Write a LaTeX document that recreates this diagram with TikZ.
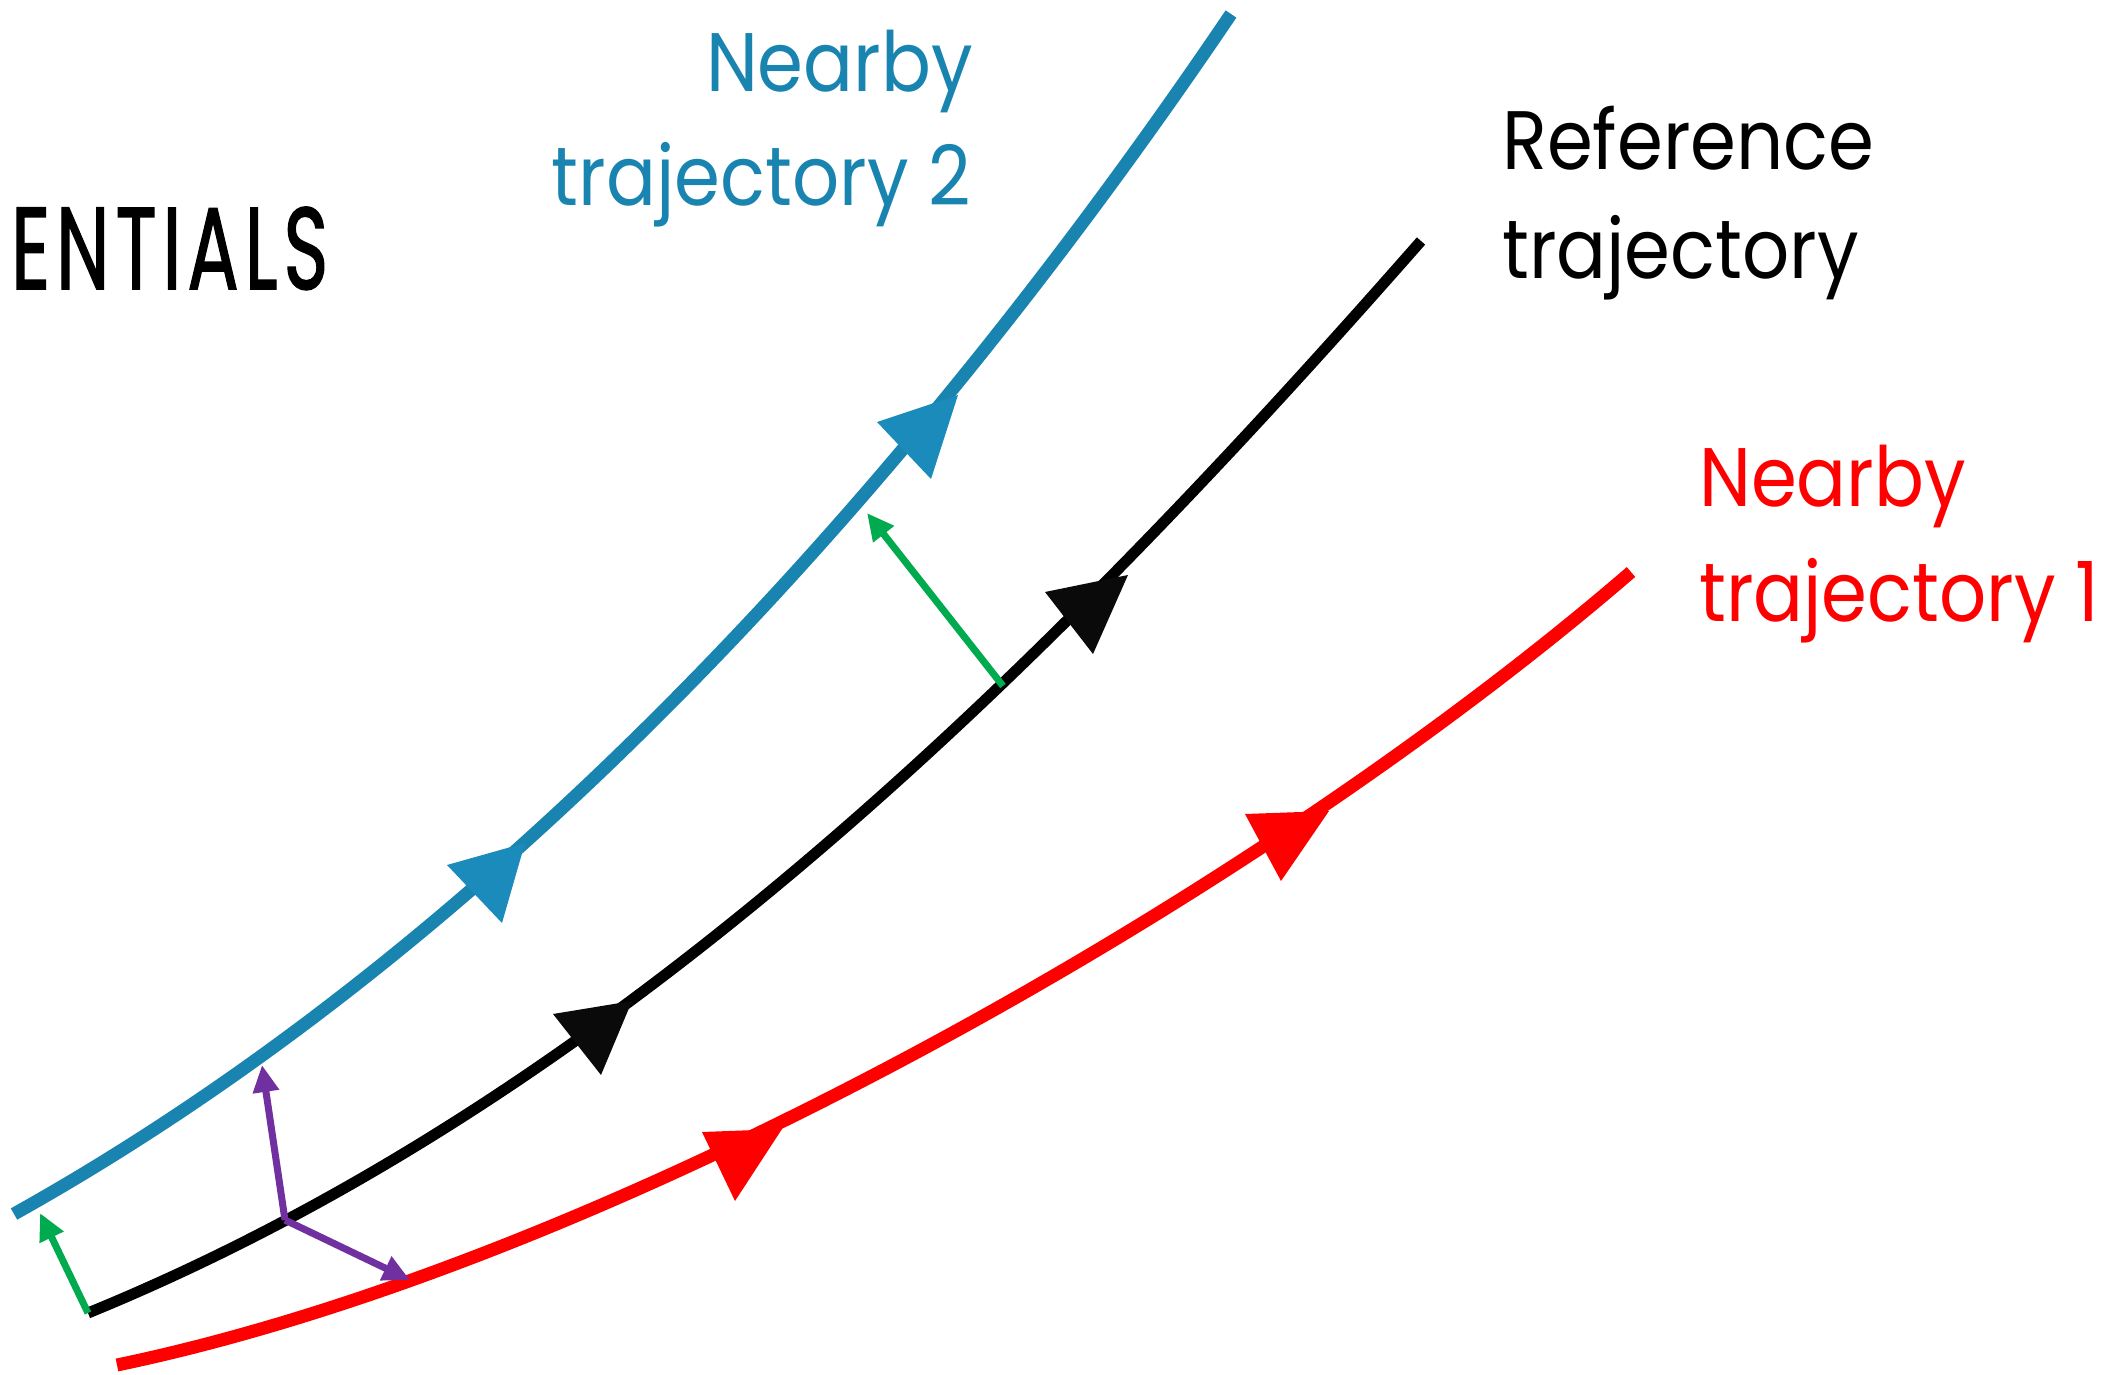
\documentclass[tikz,border=0pt]{standalone}
\usepackage{fontspec}
\setmainfont{Poppins}
\newfontfamily\entfont{Poppins}[FakeBold=1.6,LetterSpace=8]
\usetikzlibrary{arrows.meta}
\definecolor{tblue}{HTML}{1984B0}
\definecolor{tblueh}{HTML}{1A8BBA}
\definecolor{tred}{HTML}{FF0000}
\definecolor{tgreen}{HTML}{00AA4F}
\definecolor{tpurple}{HTML}{7030A0}
\begin{document}
\begin{tikzpicture}[x=1pt,y=-1pt,
  traj/.style={line width=13pt},
  vec/.style={line width=7pt,-{Triangle[length=27pt,width=25pt]}},
  lbl/.style={inner sep=0pt,anchor=base west,font=\fontsize{83}{112}\selectfont},
  lblr/.style={inner sep=0pt,anchor=base east,font=\fontsize{83}{112}\selectfont}]
\useasboundingbox (0,0) rectangle (2126,1375);
% named points
\coordinate (b0) at (14,1214);
\coordinate (b3) at (1231,14);
\coordinate (k0) at (88,1313);
\coordinate (k3) at (1421,241);
\coordinate (r0) at (117,1365);
\coordinate (r3) at (1631,572);
\coordinate (k1) at (285,1220);
\coordinate (k2) at (1003,686);
\coordinate (g1) at (40,1213);
\coordinate (g2) at (867,513);
\coordinate (p1) at (262,1065);
\coordinate (p2) at (410,1280);
% curves
\draw[traj,tblue] (b0) .. controls (503,941) and (917,478) .. (b3);
\draw[traj,black,line width=11pt] (k0) .. controls (616,1097) and (1045,669) .. (k3);
\draw[traj,tred] (r0) .. controls (607,1263) and (1252,899) .. (r3);
% direction triangles
\fill[tblueh] (447,865) -- (502,923) -- (525,843) -- cycle;
\fill[tblueh] (877,422) -- (931,479) -- (958,395) -- cycle;
\fill[black!96] (553,1014) -- (601,1075) -- (632,1001) -- cycle;
\fill[black!96] (1045,592) -- (1093,654) -- (1128,575) -- cycle;
\fill[tred] (702,1132) -- (735,1201) -- (782,1129) -- cycle;
\fill[tred] (1245,814) -- (1281,881) -- (1329,811) -- cycle;
% vectors
\draw[vec,tgreen] (k0) -- (g1);
\draw[vec,tgreen] (k2) -- (g2);
\draw[vec,tpurple] (k1) -- (p1);
\draw[vec,tpurple] (k1) -- (p2);
% labels
\node[lblr,text=tblue] (l2a) at (973,92) {\scalebox{0.89}[1]{Nearby}};
\node[lblr,text=tblue] (l2b) at (971,206) {\scalebox{0.89}[1]{trajectory 2}};
\node[lbl] (lra) at (1502,170) {\scalebox{0.89}[1]{Reference}};
\node[lbl] (lrb) at (1502,278) {\scalebox{0.89}[1]{trajectory}};
\node[lbl,text=tred] (l1a) at (1699,506) {\scalebox{0.89}[1]{Nearby}};
\node[lbl,text=tred] (l1b) at (1699,621) {\scalebox{0.89}[1]{trajectory 1}};
\node[inner sep=0pt,anchor=base west,font=\fontsize{117}{120}\entfont] (ent) at (11,289) {\resizebox{317pt}{82pt}{ENTIALS}};
\end{tikzpicture}
\end{document}
